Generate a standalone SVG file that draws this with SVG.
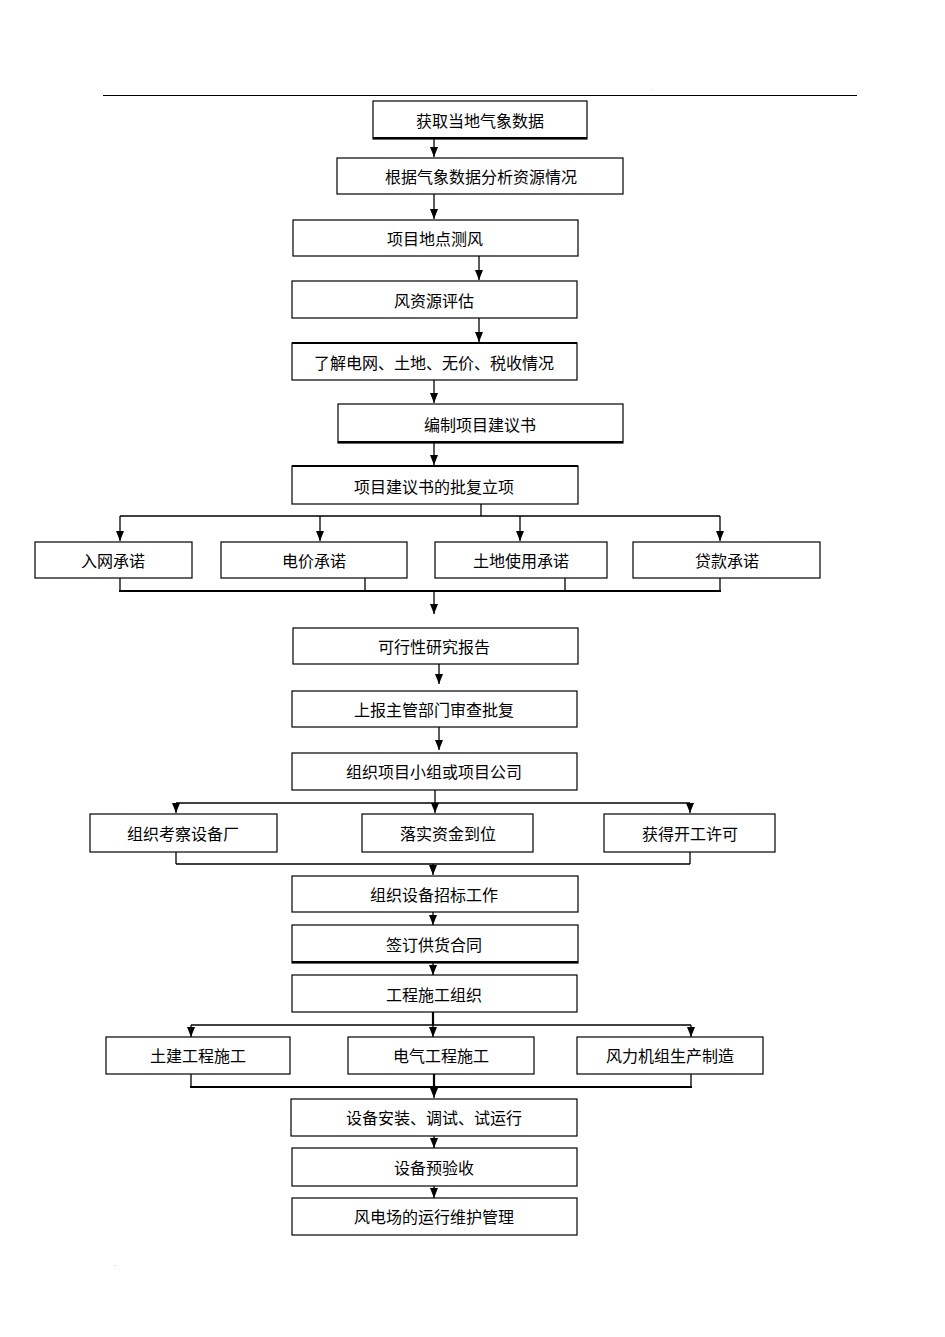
<svg xmlns="http://www.w3.org/2000/svg" width="945" height="1337" viewBox="0 0 945 1337">
<defs>
<marker id="ah" viewBox="0 0 10 8" refX="10" refY="4" markerWidth="10" markerHeight="8" markerUnits="userSpaceOnUse" orient="auto">
<path d="M0,0 L10,4 L0,8 z" fill="#000"/>
</marker>
<style>
.b{fill:#fff;stroke:#000;stroke-width:1.2}
.t{font-family:"Noto Sans CJK SC","Noto Sans CJK JP",sans-serif;font-size:16px;fill:#000;text-anchor:middle;dominant-baseline:central}
.c{fill:none;stroke:#000;stroke-width:1.3}
.a{fill:none;stroke:#000;stroke-width:1.3;marker-end:url(#ah)}
.k{fill:none;stroke:#000;stroke-width:2.2}
</style>
</defs>
<rect width="945" height="1337" fill="#fff"/>
<line x1="103" y1="95.5" x2="857" y2="95.5" stroke="#000" stroke-width="1"/>
<text x="651" y="90" font-family="Liberation Sans, sans-serif" font-size="6" fill="#666">.</text>
<text x="114" y="1266" font-family="Liberation Sans, sans-serif" font-size="6" fill="#666">.</text>

<g id="connectors">
<line class="a" x1="434" y1="139" x2="434" y2="157"/>
<line class="a" x1="434" y1="194" x2="434" y2="219"/>
<line class="a" x1="479" y1="256" x2="479" y2="280"/>
<line class="a" x1="479" y1="318" x2="479" y2="342"/>
<line class="a" x1="434" y1="380" x2="434" y2="403"/>
<line class="a" x1="434" y1="443" x2="434" y2="465"/>
<polyline class="c" points="481,504 481,516"/>
<line class="c" x1="120" y1="516" x2="720" y2="516"/>
<line class="a" x1="120" y1="516" x2="120" y2="541"/>
<line class="a" x1="320" y1="516" x2="320" y2="541"/>
<line class="a" x1="520" y1="516" x2="520" y2="541"/>
<line class="a" x1="720" y1="516" x2="720" y2="541"/>
<line class="c" x1="120" y1="578" x2="120" y2="591"/>
<line class="c" x1="365" y1="578" x2="365" y2="591"/>
<line class="c" x1="565" y1="578" x2="565" y2="591"/>
<line class="c" x1="720" y1="578" x2="720" y2="591"/>
<line class="k" x1="119" y1="591" x2="721" y2="591"/>
<line class="a" x1="434" y1="591" x2="434" y2="614"/>
<line class="a" x1="439" y1="664" x2="439" y2="684"/>
<line class="a" x1="439" y1="727" x2="439" y2="750"/>
<line class="c" x1="435" y1="790" x2="435" y2="803"/>
<line class="c" x1="176" y1="803" x2="690" y2="803"/>
<line class="a" x1="176" y1="803" x2="176" y2="813"/>
<line class="a" x1="435" y1="803" x2="435" y2="813"/>
<line class="a" x1="690" y1="803" x2="690" y2="813"/>
<line class="c" x1="176" y1="852" x2="176" y2="864"/>
<line class="c" x1="690" y1="852" x2="690" y2="864"/>
<line class="c" x1="176" y1="864" x2="690" y2="864"/>
<line class="a" x1="433" y1="864" x2="433" y2="875"/>
<line class="a" x1="433" y1="912" x2="433" y2="925"/>
<line class="a" x1="433" y1="963" x2="433" y2="975"/>
<line class="k" x1="433" y1="1012" x2="433" y2="1025"/>
<line class="c" x1="191" y1="1025" x2="691" y2="1025"/>
<line class="a" x1="191" y1="1025" x2="191" y2="1037"/>
<line class="a" x1="433" y1="1025" x2="433" y2="1037"/>
<line class="a" x1="691" y1="1025" x2="691" y2="1037"/>
<line class="c" x1="191" y1="1074" x2="191" y2="1087"/>
<line class="k" x1="434" y1="1074" x2="434" y2="1087"/>
<line class="c" x1="691" y1="1074" x2="691" y2="1087"/>
<line class="k" x1="190" y1="1087" x2="692" y2="1087"/>
<line class="a" x1="434" y1="1087" x2="434" y2="1098"/>
<line class="a" x1="434" y1="1136" x2="434" y2="1148"/>
<line class="a" x1="434" y1="1186" x2="434" y2="1198"/>
</g>

<g id="n1"><rect class="b" x="373" y="101" width="214" height="38"/><line class="k" x1="373" y1="138" x2="587" y2="138"/><text class="t" x="480" y="120">获取当地气象数据</text></g>
<g id="n2"><rect class="b" x="337" y="158" width="286" height="36"/><text class="t" x="481" y="176">根据气象数据分析资源情况</text></g>
<g id="n3"><rect class="b" x="293" y="220" width="285" height="36"/><text class="t" x="435" y="238">项目地点测风</text></g>
<g id="n4"><rect class="b" x="292" y="281" width="285" height="37"/><text class="t" x="434" y="300">风资源评估</text></g>
<g id="n5"><rect class="b" x="292" y="343" width="285" height="37"/><line class="k" x1="292" y1="343" x2="577" y2="343"/><text class="t" x="434" y="362">了解电网、土地、无价、税收情况</text></g>
<g id="n6"><rect class="b" x="338" y="404" width="285" height="39"/><line class="k" x1="338" y1="442" x2="623" y2="442"/><text class="t" x="480" y="424">编制项目建议书</text></g>
<g id="n7"><rect class="b" x="292" y="466" width="286" height="38"/><line class="k" x1="292" y1="466" x2="578" y2="466"/><text class="t" x="434" y="486">项目建议书的批复立项</text></g>
<g id="n8"><rect class="b" x="35" y="542" width="157" height="36"/><text class="t" x="113" y="560">入网承诺</text></g>
<g id="n9"><rect class="b" x="221" y="542" width="186" height="36"/><text class="t" x="314" y="560">电价承诺</text></g>
<g id="n10"><rect class="b" x="435" y="542" width="172" height="36"/><text class="t" x="521" y="560">土地使用承诺</text></g>
<g id="n11"><rect class="b" x="633" y="542" width="187" height="36"/><text class="t" x="727" y="560">贷款承诺</text></g>
<g id="n12"><rect class="b" x="293" y="628" width="285" height="36"/><text class="t" x="434" y="646">可行性研究报告</text></g>
<g id="n13"><rect class="b" x="292" y="691" width="285" height="36"/><text class="t" x="434" y="709">上报主管部门审查批复</text></g>
<g id="n14"><rect class="b" x="292" y="753" width="285" height="37"/><text class="t" x="434" y="771">组织项目小组或项目公司</text></g>
<g id="n15"><rect class="b" x="90" y="814" width="187" height="38"/><text class="t" x="183" y="833">组织考察设备厂</text></g>
<g id="n16"><rect class="b" x="362" y="814" width="171" height="38"/><text class="t" x="448" y="833">落实资金到位</text></g>
<g id="n17"><rect class="b" x="604" y="814" width="171" height="38"/><text class="t" x="690" y="833">获得开工许可</text></g>
<g id="n18"><rect class="b" x="292" y="876" width="286" height="36"/><text class="t" x="434" y="894">组织设备招标工作</text></g>
<g id="n19"><rect class="b" x="292" y="925" width="286" height="38"/><line class="k" x1="292" y1="962" x2="578" y2="962"/><text class="t" x="434" y="944">签订供货合同</text></g>
<g id="n20"><rect class="b" x="292" y="975" width="285" height="37"/><text class="t" x="434" y="994">工程施工组织</text></g>
<g id="n21"><rect class="b" x="106" y="1037" width="184" height="37"/><text class="t" x="198" y="1055">土建工程施工</text></g>
<g id="n22"><rect class="b" x="348" y="1037" width="186" height="37"/><text class="t" x="441" y="1055">电气工程施工</text></g>
<g id="n23"><rect class="b" x="577" y="1037" width="186" height="37"/><text class="t" x="670" y="1055">风力机组生产制造</text></g>
<g id="n24"><rect class="b" x="291" y="1099" width="286" height="37"/><text class="t" x="434" y="1117">设备安装、调试、试运行</text></g>
<g id="n25"><rect class="b" x="292" y="1148" width="285" height="38"/><text class="t" x="434" y="1167">设备预验收</text></g>
<g id="n26"><rect class="b" x="292" y="1198" width="285" height="37"/><text class="t" x="434" y="1216">风电场的运行维护管理</text></g>
</svg>
